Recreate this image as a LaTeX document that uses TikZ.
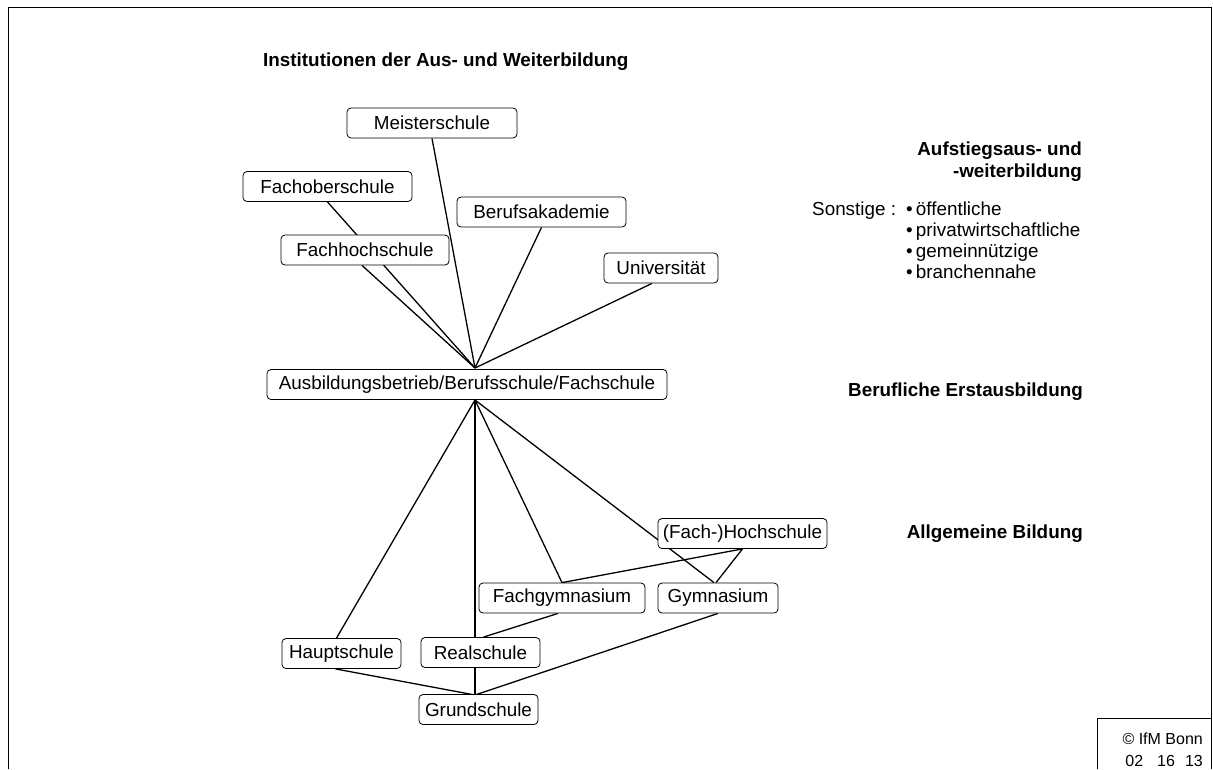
\documentclass[tikz,border=0pt]{standalone}
\usepackage{fontspec}
\setmainfont{Liberation Sans}
\usetikzlibrary{calc}
\pgfdeclarelayer{bg}
\pgfsetlayers{bg,main}
\newcommand\diagfont{\fontsize{18.85}{22}\selectfont}
\newcommand\smallcfont{\fontsize{16}{19}\selectfont}
\begin{document}
\begin{tikzpicture}[x=1pt,y=-1pt,
  box/.style={draw, rounded corners=4pt, fill=white, line width=0.8pt, minimum height=30pt, inner sep=0pt, font=\diagfont},
  conn/.style={line width=1.3pt},
  hd/.style={inner sep=0pt, font=\diagfont\bfseries},
  txt/.style={inner sep=0pt, font=\diagfont},
  ctxt/.style={inner sep=0pt, font=\smallcfont}]
\useasboundingbox (0,0) rectangle (1213,769);
% frame
\draw[line width=1.6pt] (8.5,769) -- (8.5,7.5) -- (1211.5,7.5) -- (1211.5,769);
\draw[line width=1pt] (1097,769) -- (1097,718) -- (1211.5,718);
% title and labels
\node[hd, anchor=base west] (title) at (263,66) {Institutionen der Aus- und Weiterbildung};
\node[hd, anchor=base east] (h1a) at (1082,155) {Aufstiegsaus- und};
\node[hd, anchor=base east] (h1b) at (1082,177) {-weiterbildung};
\node[txt, anchor=base west] (sonst) at (812,215) {Sonstige :};
\node[txt, anchor=base west] (b1) at (906,215) {•\,öffentliche};
\node[txt, anchor=base west] (b2) at (906,236) {•\,privatwirtschaftliche};
\node[txt, anchor=base west] (b3) at (906,257) {•\,gemeinnützige};
\node[txt, anchor=base west] (b4) at (906,278) {•\,branchennahe};
\node[hd, anchor=base east] (h2) at (1083,396) {Berufliche Erstausbildung};
\node[hd, anchor=base east] (h3) at (1083,538) {Allgemeine Bildung};
\node[ctxt, anchor=base east] (c1) at (1203,744) {© IfM Bonn};
\node[ctxt, anchor=base east] (c2) at (1203,766) {02\hspace{14pt}16\hspace{10pt}13};
% boxes
\node[box, minimum width=170pt] (ms) at (432,123) {Meisterschule};
\node[box, minimum width=169pt] (fo) at (327.5,186.5) {Fachoberschule};
\node[box, minimum width=168pt] (fh) at (365,250) {Fachhochschule};
\node[box, minimum width=169pt] (ba) at (541.5,212) {Berufsakademie};
\node[box, minimum width=114pt] (uni) at (661,268) {Universität};
\node[box, minimum width=400pt] (ab) at (467,384.5) {Ausbildungsbetrieb/Berufsschule/Fachschule};
\node[box, minimum width=169pt] (hh) at (742.5,533.5) {(Fach-)Hochschule};
\node[box, minimum width=166pt] (fg) at (562,598) {Fachgymnasium};
\node[box, minimum width=120pt] (gy) at (718,598) {Gymnasium};
\node[box, minimum width=119pt] (hs) at (341.5,653.5) {Hauptschule};
\node[box, minimum width=119pt] (rs) at (480.5,652.5) {Realschule};
\node[box, minimum width=119pt] (gs) at (478.5,709.5) {Grundschule};
\coordinate (hubT) at (475,368);
\coordinate (hubB) at (475,400);
\coordinate (gsT) at (475,695);
\begin{pgfonlayer}{bg}
\draw[conn] (ms.south) -- (hubT);
\draw[conn] (fo.south) -- (hubT);
\draw[conn] ([xshift=-3pt]fh.south) -- (hubT);
\draw[conn] (ba.south) -- (hubT);
\draw[conn] ([xshift=-9pt]uni.south) -- (hubT);
\draw[conn] (hubB) -- ([xshift=-5pt]hs.north);
\draw[conn] (hubB) -- (gsT);
\draw[conn] (hubB) -- (fg.north);
\draw[conn] (hubB) -- ([xshift=-4pt]gy.north);
\draw[conn] (hh.south) -- (fg.north);
\draw[conn] (hh.south) -- ([xshift=-2pt]gy.north);
\draw[conn] ([xshift=-4pt]fg.south) -- ([xshift=3pt]rs.north);
\draw[conn] (gy.south) -- (gsT);
\draw[conn] ([xshift=-6pt]hs.south) -- (gsT);
\end{pgfonlayer}
\end{tikzpicture}
\end{document}
